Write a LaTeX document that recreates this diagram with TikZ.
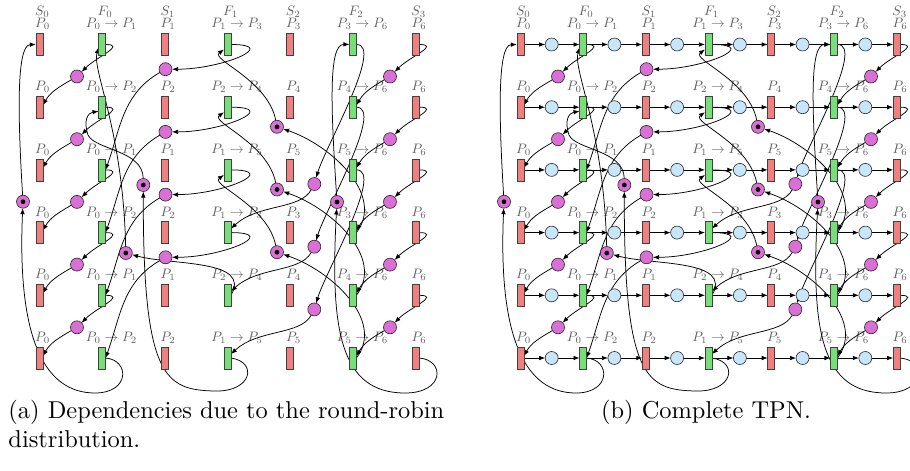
\documentclass[tikz,border=0pt]{standalone}
\usetikzlibrary{arrows.meta,calc}
\definecolor{tred}{RGB}{240,128,128}
\definecolor{tgreen}{RGB}{120,222,120}
\definecolor{porch}{RGB}{218,112,214}
\definecolor{pblue}{RGB}{200,230,250}
\definecolor{labgray}{RGB}{95,95,95}
\pgfdeclarelayer{bg}
\pgfsetlayers{bg,main}
\begin{document}
\begin{tikzpicture}[x=1pt,y=-1pt,
  trans/.style={draw=black!75,line width=0.6pt,minimum width=7pt,minimum height=22pt,inner sep=0pt,outer sep=0pt},
  tr/.style={trans,fill=tred}, tg/.style={trans,fill=tgreen},
  pl/.style={circle,draw=black!85,line width=0.6pt,minimum size=13pt,inner sep=0pt,outer sep=0pt,fill=porch},
  tok/.style={pl,path picture={\fill[black] (path picture bounding box.center) circle (2.4pt);}},
  bp/.style={pl,fill=pblue},
  lab/.style={text=labgray,scale=1.37,inner sep=0pt,anchor=base},
  arc/.style={-{Latex[length=6pt,width=4.6pt]},line width=0.75pt},
  captxt/.style={scale=2.44,inner sep=0pt,anchor=base west}]
\useasboundingbox (0,0) rectangle (910,471);
\clip (0,0) rectangle (910,471);

\foreach \pn/\dx in {a/0,b/481}{
\begin{scope}[xshift=\dx pt]
  % headers
  \begin{pgfonlayer}{bg}
  \node[lab] at (42.3,15) {$S_0$};
  \node[lab] at (105.0,15) {$F_0$};
  \node[lab] at (167.8,15) {$S_1$};
  \node[lab] at (230.5,15) {$F_1$};
  \node[lab] at (293.2,15) {$S_2$};
  \node[lab] at (356.0,15) {$F_2$};
  \node[lab] at (418.7,15) {$S_3$};
  \end{pgfonlayer}
  % transitions
  \foreach \r/\ra/\rf/\rb in {1/1/1/3,2/2/2/4,3/1/1/5,4/2/1/3,5/1/2/4,6/2/1/5}{
    \pgfmathsetmacro\yy{44.5+62.7*(\r-1)}
    \node[tr] (\pn T\r-1) at (39.3,\yy) {};
    \node[tg] (\pn T\r-2) at (102.03,\yy) {};
    \node[tr] (\pn T\r-3) at (164.76,\yy) {};
    \node[tg] (\pn T\r-4) at (227.49,\yy) {};
    \node[tr] (\pn T\r-5) at (290.22,\yy) {};
    \node[tg] (\pn T\r-6) at (352.95,\yy) {};
    \node[tr] (\pn T\r-7) at (415.68,\yy) {};
    \begin{pgfonlayer}{bg}
    \node[lab] at (42.6,\yy-16.6) {$P_0$};
    \node[lab] at (111.5,\yy-16.6) {$P_0\rightarrow P_{\ra}$};
    \node[lab] at (168.1,\yy-16.6) {$P_{\ra}$};
    \node[lab] at (237.0,\yy-16.6) {$P_{\rf}\rightarrow P_{\rb}$};
    \node[lab] at (293.5,\yy-16.6) {$P_{\rb}$};
    \node[lab] at (362.5,\yy-16.6) {$P_{\rb}\rightarrow P_6$};
    \node[lab] at (419.0,\yy-16.6) {$P_6$};
    \end{pgfonlayer}
  }
  % places
  \foreach \i in {1,...,5}{
    \pgfmathsetmacro\yy{44.5+62.7*(\i-1)+32}
    \node[pl] (\pn A\i) at (77,\yy) {};
    \node[pl] (\pn B\i) at (390,\yy) {};
  }
  \foreach \i in {1,...,4}{
    \pgfmathsetmacro\yy{44.5+62.7*\i-38}
    \node[pl] (\pn C\i) at (165.5,\yy) {};
  }
  \foreach \i in {1,2,3}{
    \pgfmathsetmacro\yy{44.5+62.7*(\i-1)}
    \pgfmathtruncatemacro\k{\i+3}
    \node[pl] (\pn D\i) at (314.3,\yy+139.5) {};
    \node[tok] (\pn TD\k) at (277,\yy+82.3) {};
  }
  \node[tok] (\pn TA) at (23,201.7) {};
  \node[tok] (\pn TB) at (337,202) {};
  \node[tok] (\pn TC5) at (125.8,253) {};
  \node[tok] (\pn TC6) at (143.3,185) {};
  % arcs
  \begin{pgfonlayer}{bg}
  \foreach \i in {1,...,5}{
    \pgfmathtruncatemacro\j{\i+1}
    \draw[arc] (\pn T\i-2.east) to[out=0,in=45,looseness=1.5] (\pn A\i);
    \draw[arc] (\pn A\i) to[out=-150,in=60] ([yshift=2pt]\pn T\j-1.east);
    \draw[arc] (\pn T\i-7.east) to[out=0,in=45,looseness=1.5] (\pn B\i);
    \draw[arc] (\pn B\i) to[out=-150,in=60] ([yshift=2pt]\pn T\j-6.east);
  }
  \foreach \i in {1,...,4}{
    \pgfmathtruncatemacro\j{\i+2}
    \draw[arc] (\pn T\i-4.east) to[out=0,in=0,looseness=2] (\pn C\i);
    \draw[arc] (\pn C\i) to[out=-150,in=70] (\pn T\j-2.east);
  }
  \foreach \i in {1,2,3}{
    \pgfmathtruncatemacro\j{\i+3}
    \draw[arc] (\pn T\i-6.east) .. controls +(28,0) and +(11,-37) .. (\pn D\i);
    \draw[arc] (\pn D\i) .. controls +(-14,26) and +(27,-25) .. ([yshift=4pt]\pn T\j-4.east);
    \draw[arc] (\pn T\j-6.east) .. controls +(29,-38) and +(53,18) .. (\pn TD\j);
    \draw[arc] (\pn TD\j) .. controls +(-9,-47) and +(-14,10) .. ([yshift=-5pt]\pn T\i-4.west);
  }
  \draw[arc] (\pn T6-2.east) .. controls (130,360) and (130,393) .. (95,393) .. controls (45,393) and (17,340) .. (\pn TA);
  \draw[arc] (\pn TA) .. controls (18,120) and (16,45) .. (\pn T1-1.west);
  \draw[arc] (\pn T6-7.east) .. controls (445,360) and (445,393) .. (405,393) .. controls (340,393) and (330,330) .. (\pn TB);
  \draw[arc] (\pn TB) .. controls (331,110) and (328,44) .. (\pn T1-6.west);
  \draw[arc] (\pn T5-4.east) to[out=60,in=-15] (\pn TC5);
  \draw[arc] (\pn TC5) .. controls (123,130) and (92,70) .. ([yshift=-3pt]\pn T1-2.west);
  \draw[arc] (\pn T6-4.east) .. controls (258,362) and (252,392) .. (215,391) .. controls (165,390) and (143,378) .. (\pn TC6);
  \draw[arc] (\pn TC6) .. controls (143,150) and (95,150) .. (88,135) .. controls (83,120) and (88,113) .. ([yshift=-4pt]\pn T2-2.west);
  \end{pgfonlayer}
\end{scope}
}

% blue places of the complete TPN
\foreach \r in {1,...,6}{
  \pgfmathsetmacro\yy{44.5+62.7*(\r-1)}
  \foreach \cc in {1,...,6}{
    \pgfmathtruncatemacro\nn{\cc+1}
    \node[bp] (bQ\r-\cc) at (39.3+62.73*\cc-31.37+481,\yy) {};
    \begin{pgfonlayer}{bg}
    \draw[arc] (bT\r-\cc) -- (bQ\r-\cc);
    \draw[arc] (bQ\r-\cc) -- (bT\r-\nn);
    \end{pgfonlayer}
  }
}

\node[captxt] (capa1) at (8,418) {(a) Dependencies due to the round-robin};
\node[captxt] (capa2) at (8,447) {distribution.};
\node[captxt,anchor=base] (capb) at (706,418) {(b) Complete TPN.};
\end{tikzpicture}
\end{document}
